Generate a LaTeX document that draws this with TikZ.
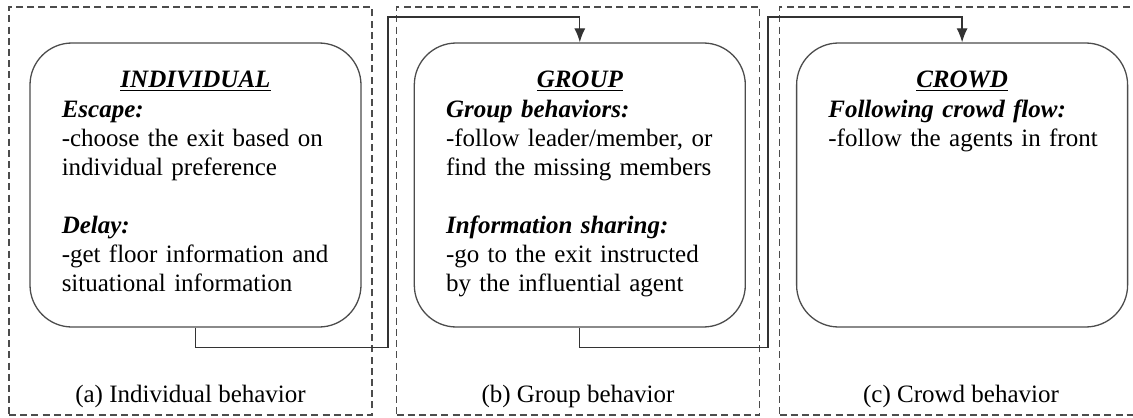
\documentclass[tikz,border=0pt]{standalone}
\usepackage{fontspec}
\setmainfont{Liberation Serif}
\usetikzlibrary{arrows.meta, positioning}

\begin{document}
\begin{tikzpicture}[
        x=0.5pt,
        y=-0.5pt,
        node distance=26pt,
        >={Latex[length=7pt,width=5.5pt]},
        level/.style={
            rectangle,
            draw=black!70,
            line width=0.65pt,
            rounded corners=21pt,
            minimum width=165.5pt,
            minimum height=142pt,
            inner sep=0pt
        },
        frame/.style={
            rectangle,
            draw=black!70,
            line width=0.85pt,
            dash pattern=on 3.5pt off 2.1pt,
            minimum width=181.5pt,
            minimum height=204pt,
            inner sep=0pt
        },
        heading/.style={
            anchor=base,
            inner sep=0pt,
            font=\fontsize{12.5}{14.5}\selectfont\bfseries\itshape
        },
        body/.style={
            anchor=base west,
            text width=140pt,
            align=left,
            inner sep=0pt,
            font=\fontsize{12.5}{14.5}\selectfont
        },
        caption/.style={
            anchor=base,
            inner sep=0pt,
            font=\fontsize{12.5}{14.5}\selectfont
        },
        flow/.style={
            ->,
            draw=black!80,
            line width=0.65pt
        }
    ]
    \useasboundingbox (0,0) rectangle (1133,417);

    % Frames
    \node[frame] (frame a) at (190.5,211) {};
    \node[frame] (frame b) at (578,211) {};
    \node[frame] (frame c) at (961,211) {};

    % Levels
    \node[level] (individual) at (195.5,185) {};
    \node[level, right=of individual] (group) {};
    \node[level, right=25pt of group] (crowd) {};

    % Headings
    \node[heading] (individual title) at ([shift={(0,45)}]individual.north) {\underline{INDIVIDUAL}};
    \node[heading] (group title) at ([shift={(0,45)}]group.north) {\underline{GROUP}};
    \node[heading] (crowd title) at ([shift={(0,45)}]crowd.north) {\underline{CROWD}};

    % Texts
    \node[body] (individual text) at ([shift={(32,75)}]individual.north west) {\textbf{\textit{Escape:}}\\
        -choose the exit based on\\
        individual preference\\[14.5pt]
        \textbf{\textit{Delay:}}\\
        -get floor information and\\
        situational information};
    \node[body] (group text) at ([shift={(32,75)}]group.north west) {\textbf{\textit{Group behaviors:}}\\
        -follow leader/member, or\\
        find the missing members\\[14.5pt]
        \textbf{\textit{Information sharing:}}\\
        -go to the exit instructed\\
        by the influential agent};
    \node[body] (crowd text) at ([shift={(32,75)}]crowd.north west) {\textbf{\textit{Following crowd flow:}}\\
        -follow the agents in front};

    % Captions
    \node[caption] (caption a) at ([shift={(0,-13)}]frame a.south) {(a) Individual behavior};
    \node[caption] (caption b) at ([shift={(0,-13)}]frame b.south) {(b) Group behavior};
    \node[caption] (caption c) at ([shift={(0,-13)}]frame c.south) {(c) Crowd behavior};

    % Arrows
    \coordinate (hop a) at (388,17);
    \coordinate (hop b) at (768,17);
    \draw[flow] (individual.south) -- ++(0,20) -| (hop a) -| (group.north);
    \draw[flow] (group.south) -- ++(0,20) -| (hop b) -| (crowd.north);

\end{tikzpicture}
\end{document}
